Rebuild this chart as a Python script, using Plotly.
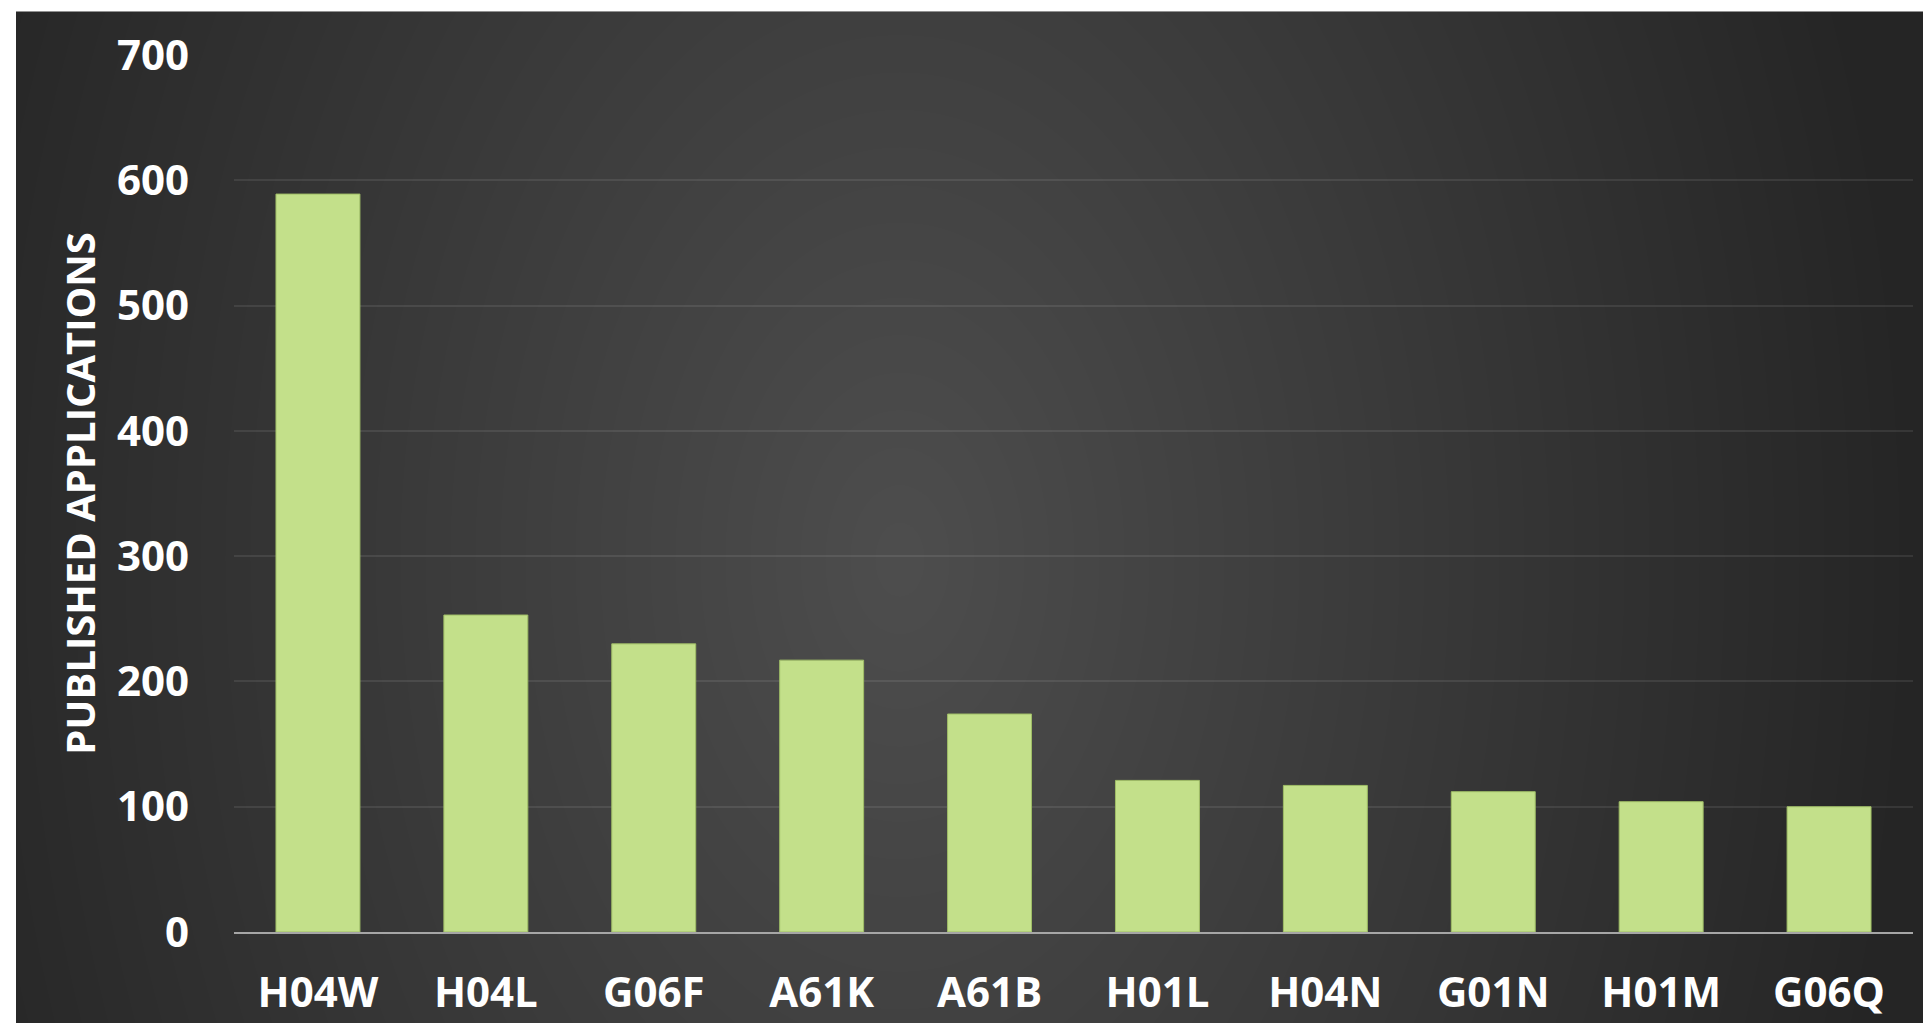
import plotly.graph_objects as go

categories = ["H04W", "H04L", "G06F", "A61K", "A61B", "H01L", "H04N", "G01N", "H01M", "G06Q"]
applications = [589, 253, 230, 217, 174, 121, 117, 112, 104, 100]
y_ticks = [0, 100, 200, 300, 400, 500, 600, 700]

OFF = 8  # page body margin
W, H = 1931 - OFF, 1023 - OFF
L, R, T, B = 234 - OFF, 18, 55.4 - OFF, 1023 - 932.2
PW, PH = W - L - R, H - T - B


def px(x):
    return (x - OFF - L) / PW


def py(y):
    return (H - B - (y - OFF)) / PH


fig = go.Figure()
fig.add_trace(go.Bar(
    x=categories,
    y=applications,
    marker=dict(color="#c3e08a", line=dict(color="#9fbd66", width=1)),
    hovertemplate="%{x}: %{y}<extra></extra>",
))

shapes = [dict(type="rect", xref="paper", yref="paper",
               x0=px(16), x1=px(1940), y0=py(1030), y1=py(12),
               fillcolor="#252525", line=dict(width=0), layer="below")]
# radial light glow (concentric translucent ellipses)
n = 40
cx, cy = 900, 560
for i in range(n):
    f = 1 - i / n
    rx, ry = 1000 * f, 1500 * f
    shapes.append(dict(type="circle", xref="paper", yref="paper",
                       x0=px(cx - rx), x1=px(cx + rx), y0=py(cy + ry), y1=py(cy - ry),
                       fillcolor="rgba(255,255,255,0.0073)", line=dict(width=0), layer="below"))

fig.update_layout(
    width=W, height=H,
    margin=dict(l=L, r=R, t=T, b=B, pad=0, autoexpand=False),
    paper_bgcolor="white",
    plot_bgcolor="rgba(0,0,0,0)",
    bargap=0.5,
    showlegend=False,
    shapes=shapes,
    font=dict(family="Open Sans", color="white"),
    xaxis=dict(
        automargin=False,
        showgrid=False, showline=True, linecolor="#a6a6a6", linewidth=2,
        ticks="outside", ticklen=0, tickcolor="rgba(0,0,0,0)",
        tickfont=dict(family="Open Sans", size=42, color="white", weight="bold"),
        ticklabelstandoff=23,
    ),
    yaxis=dict(
        automargin=False,
        range=[0, 700], tickvals=y_ticks,
        showgrid=True, gridcolor="rgba(255,255,255,0.085)", gridwidth=2,
        zeroline=False, showline=False,
        tickfont=dict(family="Open Sans", size=42, color="white", weight="bold"),
        ticklabelstandoff=44,
        title=dict(text="PUBLISHED APPLICATIONS", standoff=8,
                   font=dict(family="Open Sans", size=40, color="white", weight="bold")),
    ),
)

fig.write_html("out.html")
